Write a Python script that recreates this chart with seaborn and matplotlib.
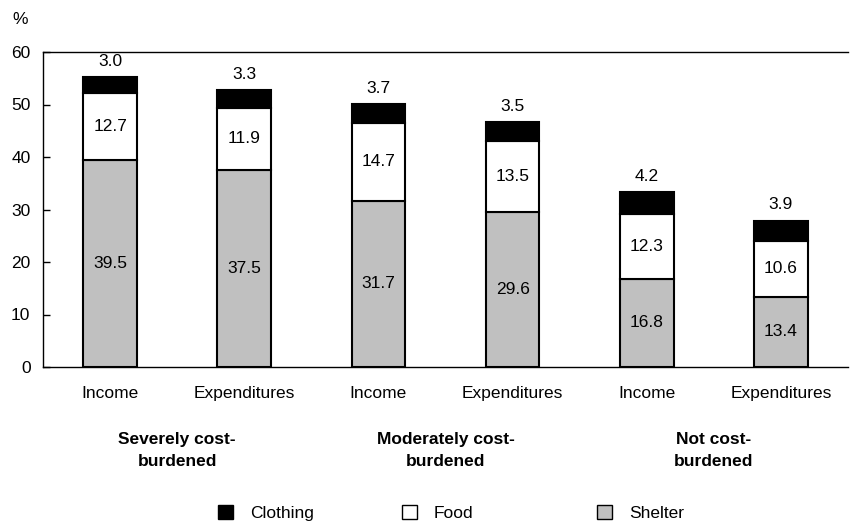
import matplotlib
matplotlib.use('Agg')
import matplotlib.pyplot as plt
import seaborn as sns
import numpy as np
from matplotlib.patches import Patch

bars = ["Income", "Expenditures", "Income", "Expenditures", "Income", "Expenditures"]
groups = ["Severely cost-\nburdened", "Moderately cost-\nburdened", "Not cost-\nburdened"]
shelter = [39.5, 37.5, 31.7, 29.6, 16.8, 13.4]
food = [12.7, 11.9, 14.7, 13.5, 12.3, 10.6]
clothing = [3.0, 3.3, 3.7, 3.5, 4.2, 3.9]

sns.set_style("white")
plt.rcParams['font.family'] = ['Liberation Sans', 'DejaVu Sans']
plt.rcParams['text.color'] = 'black'
plt.rcParams['xtick.color'] = 'black'
plt.rcParams['ytick.color'] = 'black'

fig = plt.figure(figsize=(8.51, 5.25), dpi=100)
ax = fig.add_axes([43 / 851, 1 - 367 / 525, 805 / 851, 315 / 525])

x = np.arange(len(bars))
shelter_a = np.array(shelter)
food_a = np.array(food)
cloth_a = np.array(clothing)

# stacked layers, drawn bottom first
sns.barplot(x=x, y=shelter_a, ax=ax, color="#c0c0c0", edgecolor="black",
            linewidth=1.5, width=0.4, saturation=1, native_scale=True)
sns.barplot(x=x, y=food_a, bottom=shelter_a, ax=ax, color="white", edgecolor="black",
            linewidth=1.5, width=0.4, saturation=1, native_scale=True)
sns.barplot(x=x, y=cloth_a, bottom=shelter_a + food_a, ax=ax, color="black",
            edgecolor="black", linewidth=1.5, width=0.4, saturation=1, native_scale=True)

fs = 12.5
for i in range(len(bars)):
    ax.text(x[i], shelter_a[i] / 2, f"{shelter[i]:.1f}", ha="center", va="center", fontsize=fs)
    ax.text(x[i], shelter_a[i] + food_a[i] / 2, f"{food[i]:.1f}", ha="center", va="center", fontsize=fs)
    top = shelter_a[i] + food_a[i] + cloth_a[i]
    ax.text(x[i], top + 3.0, f"{clothing[i]:.1f}", ha="center", va="center", fontsize=fs)

ax.set_xlim(-0.5, 5.5)
ax.set_ylim(0, 60)
ax.set_yticks(range(0, 61, 10))
ax.set_xticks(x)
ax.set_xticklabels(bars, fontsize=fs)
ax.tick_params(axis="y", labelsize=fs, length=5, width=1, direction="in", left=True, pad=9)
ax.tick_params(axis="x", length=0, pad=14)
ax.set_xlabel("")
ax.set_ylabel("")
for s in ["left", "bottom", "top"]:
    ax.spines[s].set_visible(True)
    ax.spines[s].set_color("black")
    ax.spines[s].set_linewidth(1)
ax.spines["right"].set_visible(False)
fig.text(12 / 851, 1 - 19 / 525, "%", fontsize=fs, ha="left", va="center")

for j, g in enumerate(groups):
    ax.text(2 * j + 0.5, -12.3, g, ha="center", va="top", fontsize=fs,
            fontweight="bold", linespacing=1.6)

handles = [Patch(facecolor="black", edgecolor="black", label="Clothing"),
           Patch(facecolor="white", edgecolor="black", label="Food"),
           Patch(facecolor="#c0c0c0", edgecolor="black", label="Shelter")]
legend_x = [218, 402, 597]
for h, lx in zip(handles, legend_x):
    fig.legend(handles=[h], loc="center left", bbox_to_anchor=(lx / 851, 1 - 513 / 525),
               frameon=False, fontsize=fs, handlelength=0.85, handleheight=0.85,
               handletextpad=1.0, borderpad=0, borderaxespad=0)

fig.savefig("out.png", dpi=100)
